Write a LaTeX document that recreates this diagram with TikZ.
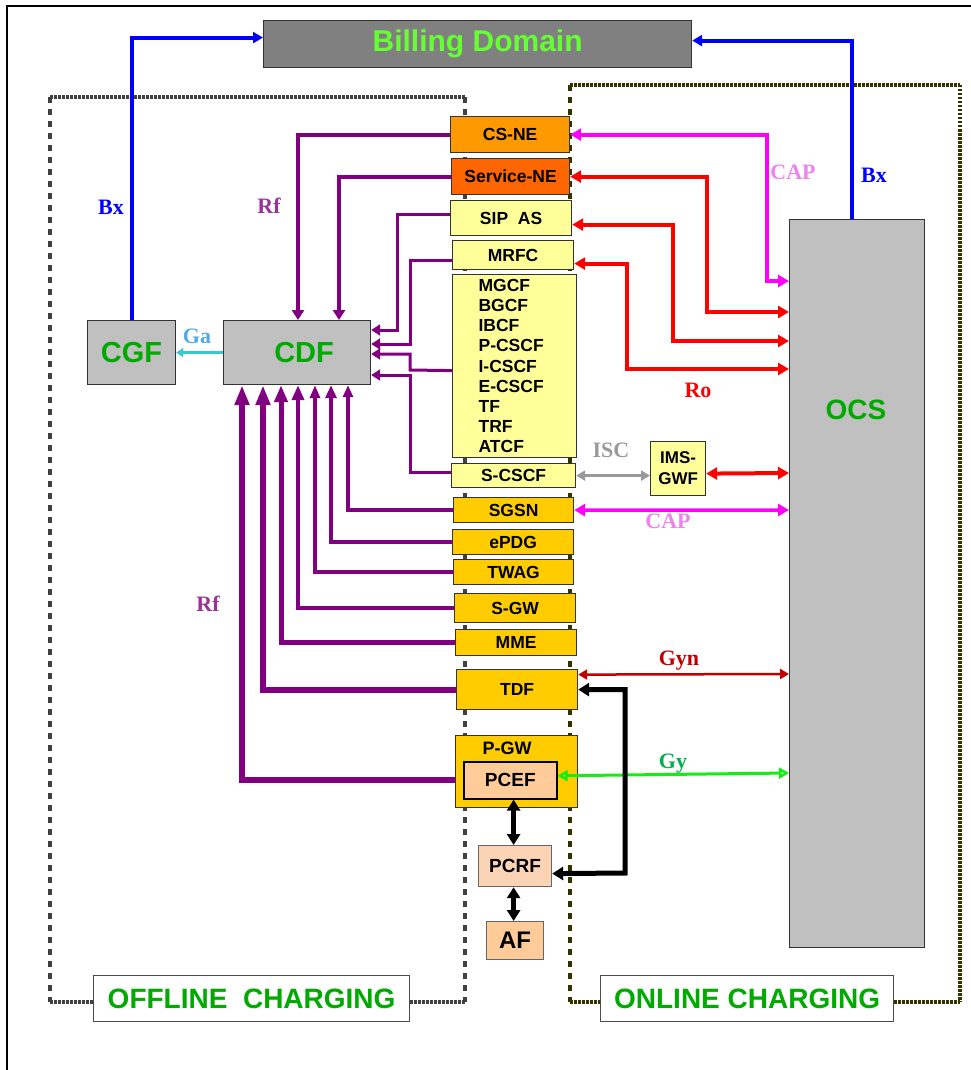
\documentclass[tikz,border=0pt]{standalone}
\usepackage{fontspec}
\setmainfont{Liberation Serif}
\newfontfamily\arial{Liberation Sans}
\usetikzlibrary{arrows.meta}
\definecolor{billgray}{HTML}{808080}
\definecolor{boxgray}{HTML}{C0C0C0}
\definecolor{billtxt}{HTML}{66FF33}
\definecolor{grn}{HTML}{00AA00}
\definecolor{csorange}{HTML}{FF9900}
\definecolor{servorange}{HTML}{FF6600}
\definecolor{lyellow}{HTML}{FFFF99}
\definecolor{gold}{HTML}{FFCC00}
\definecolor{peach}{HTML}{FFCC99}
\definecolor{lpeach}{HTML}{FAD4B4}
\definecolor{rfpurple}{HTML}{800080}
\definecolor{rflbl}{HTML}{993399}
\definecolor{galbl}{HTML}{50AAE6}
\definecolor{galine}{HTML}{33CCCC}
\definecolor{caplbl}{HTML}{EE82EE}
\definecolor{capline}{HTML}{FF00FF}
\definecolor{isccol}{HTML}{999999}
\definecolor{gynred}{HTML}{C00000}
\definecolor{gylbl}{HTML}{00B050}
\definecolor{gyline}{HTML}{11EE11}
\definecolor{bxblue}{HTML}{0000FF}
\definecolor{offdot}{HTML}{404040}
\definecolor{ondot}{HTML}{333300}
\begin{document}
\begin{tikzpicture}[x=1pt,y=-1pt,
  box/.style={draw=black!80, line width=1.2pt, inner sep=0pt, anchor=north west,
    font=\arial\bfseries\fontsize{17.5}{19}\selectfont, text=black},
  bigtxt/.style={font=\arial\bfseries\fontsize{29}{32}\selectfont, text=grn},
  lbl/.style={font=\bfseries\fontsize{22}{24}\selectfont, inner sep=0pt},
  tri/.tip={Triangle[length=11pt,width=12pt]},
  smalltri/.tip={Triangle[length=9pt,width=10pt]},
  rf/.style={draw=rfpurple, line width=4pt, -{Triangle[length=10pt,width=12pt]}},
  rfthin/.style={draw=rfpurple, line width=3pt, -{Triangle[length=9pt,width=11pt]}},
  rfb/.style={draw=rfpurple, line width=4pt},
  ro/.style={draw=red, line width=4pt, tri-tri},
  capl/.style={draw=capline, line width=4pt, tri-tri},
  blk/.style={draw=black, line width=5pt, {Triangle[length=11pt,width=13pt]}-{Triangle[length=11pt,width=13pt]}},
  fine/.style={line width=4pt, dash pattern=on 2.5pt off 1.5pt},
  coarse/.style={line width=4pt, dash pattern=on 6pt off 6pt}
]
\useasboundingbox (0,0) rectangle (971,1070);
% outer frame
\draw[line width=1.5pt] (7,1080) -- (7,6) -- (985,6);

% dotted domains
\draw[fine, offdot] (50,97) -- (465,97);
\draw[fine, offdot] (50,1002) -- (465,1002);
\draw[coarse, offdot] (50,97) -- (50,1002);
\draw[coarse, offdot] (465,97) -- (465,1002);
\draw[fine, ondot] (570,85) -- (960,85);
\draw[fine, ondot] (570,1002) -- (960,1002);
\draw[coarse, ondot] (570,85) -- (570,1002);
\draw[fine, ondot] (960,85) -- (960,1002);

% nodes
\node[box, fill=billgray, minimum width=428pt, minimum height=47pt,
  font=\arial\bfseries\fontsize{30}{32}\selectfont, text=billtxt] (billing) at (263,20) {Billing Domain};
\node[box, fill=boxgray, minimum width=88pt, minimum height=64pt, bigtxt] (cgf) at (87,320) {CGF};
\node[box, fill=boxgray, minimum width=147pt, minimum height=64pt, bigtxt] (cdf) at (223,320) {\hspace{14pt}CDF};
\node[box, fill=boxgray, minimum width=135pt, minimum height=728pt] (ocs) at (789,219) {};
\node[bigtxt, font=\arial\bfseries\fontsize{28}{30}\selectfont] (ocslabel) at (856,410) {OCS};

\node[box, fill=csorange, minimum width=119pt, minimum height=36pt] (csne) at (450,116) {CS-NE};
\node[box, fill=servorange, minimum width=118pt, minimum height=36pt] (servne) at (451,158) {Service-NE};
\node[box, fill=lyellow, minimum width=121pt, minimum height=35pt] (sipas) at (450,200) {SIP\ \ AS};
\node[box, fill=lyellow, minimum width=121pt, minimum height=29pt] (mrfc) at (452,240) {MRFC\hspace{6pt}};
\node[box, fill=lyellow, minimum width=124pt, minimum height=183pt, align=left,
  text width=72pt, inner xsep=26pt, font=\arial\bfseries\fontsize{17.5}{20.2}\selectfont] (big) at (452,274)
  {MGCF\\BGCF\\IBCF\\P-CSCF\\I-CSCF\\E-CSCF\\TF\\TRF\\ATCF};
\node[box, fill=lyellow, minimum width=124pt, minimum height=24pt] (scscf) at (451,463) {S-CSCF};
\node[box, fill=gold, minimum width=120pt, minimum height=25pt] (sgsn) at (453,497) {SGSN};
\node[box, fill=gold, minimum width=121pt, minimum height=25pt] (epdg) at (452,529) {ePDG};
\node[box, fill=gold, minimum width=120pt, minimum height=25pt] (twag) at (453,559) {TWAG};
\node[box, fill=gold, minimum width=121pt, minimum height=29pt] (sgw) at (454,593) {S-GW};
\node[box, fill=gold, minimum width=121pt, minimum height=26pt] (mme) at (455,629) {MME};
\node[box, fill=gold, minimum width=121pt, minimum height=40pt] (tdf) at (456,669) {TDF};
\node[box, fill=gold, minimum width=122pt, minimum height=72pt] (pgw) at (455,735) {};
\node[font=\arial\bfseries\fontsize{18}{19}\selectfont, inner sep=0pt] (pgwlabel) at (507,748) {P-GW};
\node[box, fill=peach, draw=black, line width=1.6pt, minimum width=93pt, minimum height=37pt,
  font=\arial\bfseries\fontsize{19}{20}\selectfont] (pcef) at (463,761) {PCEF};
\node[box, fill=lpeach, draw=black!60, minimum width=73pt, minimum height=41pt,
  font=\arial\bfseries\fontsize{19}{20}\selectfont] (pcrf) at (478,845) {PCRF};
\node[box, fill=peach, draw=black!60, minimum width=57pt, minimum height=38pt,
  font=\arial\bfseries\fontsize{24}{25}\selectfont] (af) at (486,921) {AF};
\node[box, fill=lyellow, minimum width=55pt, minimum height=54pt, align=center,
  font=\arial\bfseries\fontsize{17}{21}\selectfont] (imsgwf) at (650,441) {IMS-\\GWF};

\node[box, fill=white, draw=black!70, minimum width=316pt, minimum height=46pt,
  font=\arial\bfseries\fontsize{28}{29}\selectfont, text=grn] (offlabel) at (93,975) {OFFLINE\ \ CHARGING};
\node[box, fill=white, draw=black!70, minimum width=293pt, minimum height=46pt,
  font=\arial\bfseries\fontsize{28}{29}\selectfont, text=grn] (onlabel) at (600,975) {ONLINE CHARGING};

% Bx
\draw[bxblue, line width=4pt, -{Triangle[length=10pt,width=11pt]}] (cgf.north) |- ([yshift=6.5pt]billing.west);
\draw[bxblue, line width=4pt, -{Triangle[length=10pt,width=11pt]}] ([xshift=-5.5pt]ocs.north) |- ([yshift=3.5pt]billing.east);
% Ga
\draw[galine, line width=3pt, -{Triangle[length=7pt,width=9pt]}] (cdf.west) -- (cgf.east);

% Rf top
\draw[rf] (csne.west) -| ([xshift=75pt]cdf.north west);
\draw[rf] (servne.west) -| ([xshift=116pt]cdf.north west);
\draw[rfthin] ([yshift=4pt]sipas.west) -| (397,330) -- ([yshift=-10pt]cdf.north east);
\draw[rfthin] ([yshift=-5pt]mrfc.west) -| (410,344) -- ([yshift=-24pt]cdf.north east);
\draw[rfthin] ([yshift=-4.5pt]big.west) -- (410,370) |- ([yshift=-34pt]cdf.north east);
\draw[rfthin] ([yshift=3pt]scscf.west) -| (410,375) -- ([yshift=-55pt]cdf.north east);
% Rf bottom
\draw[rfb, -{Triangle[length=12pt,width=10pt]}] (sgsn.west) -| ([xshift=125pt]cdf.south west);
\draw[rfb, -{Triangle[length=13pt,width=11pt]}] (epdg.west) -| ([xshift=108pt]cdf.south west);
\draw[rfb, -{Triangle[length=13pt,width=10pt]}] (twag.west) -| ([xshift=92pt]cdf.south west);
\draw[rfb, line width=4.5pt, -{Triangle[length=15pt,width=12pt]}] (sgw.west) -| ([xshift=75pt]cdf.south west);
\draw[rfb, line width=5pt, -{Triangle[length=17pt,width=13pt]}] (mme.west) -| ([xshift=58pt]cdf.south west);
\draw[rfb, line width=6pt, -{Triangle[length=20pt,width=14pt]}] (tdf.west) -| ([xshift=40pt]cdf.south west);
\draw[rfb, line width=6pt, -{Triangle[length=20pt,width=14pt]}] ([yshift=-8pt]pgw.west) -| ([xshift=19pt]cdf.south west);

% CAP / Ro
\draw[capl] (csne.east) -| (767,281) -- ([yshift=-62pt]ocs.north west);
\draw[ro] (servne.east) -| (707,312) -- ([yshift=-93pt]ocs.north west);
\draw[ro] ([yshift=-6.5pt]sipas.east) -| (673,341) -- ([yshift=-122pt]ocs.north west);
\draw[ro] ([yshift=-8.5pt]mrfc.east) -| (627,369) -- ([yshift=-150pt]ocs.north west);
\draw[ro] ([yshift=-5pt]imsgwf.east) -- ([yshift=-254pt]ocs.north west);
\draw[isccol, line width=3pt, smalltri-smalltri] (scscf.east) -- ([yshift=-7pt]imsgwf.west);
\draw[capl, line width=3.5pt] (sgsn.east) -- ([yshift=-291pt]ocs.north west);
\draw[gynred, line width=2.5pt, smalltri-smalltri] ([yshift=15pt]tdf.east) -- ([yshift=-455pt]ocs.north west);
\draw[gyline, line width=3pt, {Triangle[open,length=10pt,width=11pt]}-{Triangle[open,length=10pt,width=11pt]}] ([yshift=4.5pt]pcef.east) -- ([yshift=-554pt]ocs.north west);

% black
\draw[blk] (tdf.east) -| (625,873) -- ([yshift=-7.5pt]pcrf.east);
\draw[blk, line width=4.5pt] ([xshift=-1.5pt]pcrf.north |- pcef.south) -- ([xshift=-1.5pt]pcrf.north);
\draw[blk, line width=4.5pt] ([xshift=-1.5pt]pcrf.south) -- ([xshift=-1.5pt]pcrf.south |- af.north);

% labels
\node[lbl, text=bxblue] (bxl) at (111,207) {Bx};
\node[lbl, text=bxblue] (bxr) at (874,175) {Bx};
\node[lbl, text=rflbl] (rf1) at (269,206) {Rf};
\node[lbl, text=rflbl] (rf2) at (208,604) {Rf};
\node[lbl, text=galbl] (ga) at (197,336) {Ga};
\node[lbl, text=caplbl] (cap1) at (793,172) {CAP};
\node[lbl, text=caplbl] (cap2) at (668,521) {CAP};
\node[lbl, text=red] (ro) at (698,390) {Ro};
\node[lbl, text=isccol] (isc) at (611,450) {ISC};
\node[lbl, text=gynred] (gyn) at (679,661) {Gyn};
\node[lbl, text=gylbl] (gy) at (673,764) {Gy};
\end{tikzpicture}
\end{document}
